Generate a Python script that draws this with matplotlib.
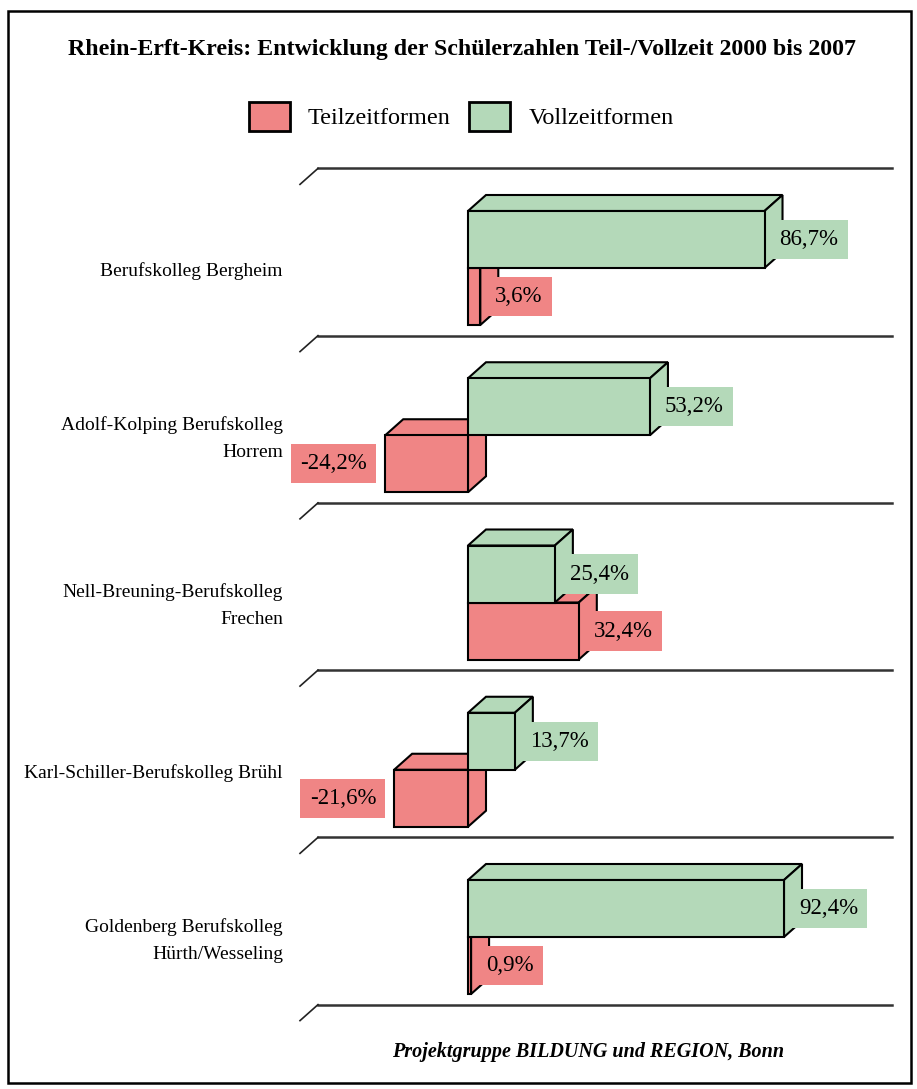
import numpy as np
import matplotlib.pyplot as plt
from matplotlib.patches import Polygon, Rectangle

schulen = ["Berufskolleg Bergheim",
           "Adolf-Kolping Berufskolleg\nHorrem",
           "Nell-Breuning-Berufskolleg\nFrechen",
           "Karl-Schiller-Berufskolleg Brühl",
           "Goldenberg Berufskolleg\nHürth/Wesseling"]
teilzeit = [3.6, -24.2, 32.4, -21.6, 0.9]
vollzeit = [86.7, 53.2, 25.4, 13.7, 92.4]

rot = '#f08585'
gruen = '#b4d9b9'

W, H = 917, 1089
px_x = 3.42      # pixel per percent
px_y = 167.25    # pixel per category
x0_px, y0_px = 468, 268

plt.rcParams['font.family'] = ['Liberation Serif', 'DejaVu Serif']

fig = plt.figure(figsize=(W/100, H/100), dpi=100)
ax = fig.add_axes([0, 0, 1, 1])
ax.set_xlim(-x0_px/px_x, (W - x0_px)/px_x)
ax.set_ylim((H - y0_px)/px_y, -y0_px/px_y)
ax.axis('off')

dx = 18/px_x      # depth of the 3d effect
dy = -16/px_y
h = 57/px_y       # bar thickness

def fx(p):
    return p/W

def fy(p):
    return 1 - p/H

# floor lines
xl = (300 - x0_px)/px_x
xr = (892 - x0_px)/px_x
for k in range(len(schulen) + 1):
    yf = k - 0.5
    ax.plot([xl + dx, xr], [yf + dy, yf + dy], color='#333333', lw=1.8, zorder=1)
    ax.plot([xl, xl + dx], [yf, yf + dy], color='#222222', lw=1.2, zorder=1)

def bar3d(v, ytop, ybot, col):
    a, b = min(0, v), max(0, v)
    kw = dict(facecolor=col, edgecolor='black', lw=1.5, joinstyle='miter', zorder=2)
    ax.add_patch(Polygon([(a, ytop), (a + dx, ytop + dy), (b + dx, ytop + dy), (b, ytop)], **kw))
    ax.add_patch(Polygon([(b, ytop), (b + dx, ytop + dy), (b + dx, ybot + dy), (b, ybot)], **kw))
    ax.add_patch(Polygon([(a, ytop), (b, ytop), (b, ybot), (a, ybot)], **kw))

def label(v, yc, col):
    s = f"{v:.1f}%".replace('.', ',')
    if v >= 0:
        ax.text(v + 15/px_x, yc, s, ha='left', va='center', fontsize=16.5, zorder=5,
                bbox=dict(boxstyle='square,pad=0.4', fc=col, ec='none'))
    else:
        ax.text(v - 18/px_x, yc, s, ha='right', va='center', fontsize=16.5, zorder=5,
                bbox=dict(boxstyle='square,pad=0.4', fc=col, ec='none'))

for i, (t, v) in enumerate(zip(teilzeit, vollzeit)):
    bar3d(t, i, i + h, rot)
    bar3d(v, i - h, i, gruen)
    label(t, i + h/2, rot)
    label(v, i - h/2, gruen)
    ax.text(-(x0_px - 283)/px_x, i + 0.02, schulen[i], ha='right', va='center',
            fontsize=14, linespacing=1.8, multialignment='right')

# title, legend, footer
fig.text(fx(462), fy(50), "Rhein-Erft-Kreis: Entwicklung der Schülerzahlen Teil-/Vollzeit 2000 bis 2007",
         ha='center', va='center', fontsize=17.2, fontweight='bold')

fig.patches.append(Rectangle((fx(249), fy(131)), 41/W, 29/H, transform=fig.transFigure,
                             fc=rot, ec='black', lw=2))
fig.text(fx(308), fy(118), "Teilzeitformen", ha='left', va='center', fontsize=17.5)
fig.patches.append(Rectangle((fx(469), fy(131)), 41/W, 29/H, transform=fig.transFigure,
                             fc=gruen, ec='black', lw=2))
fig.text(fx(529), fy(118), "Vollzeitformen", ha='left', va='center', fontsize=17.5)

fig.text(fx(588), fy(1052), "Projektgruppe BILDUNG und REGION, Bonn", ha='center', va='center',
         fontsize=14.5, fontweight='bold', fontstyle='italic')

fig.patches.append(Rectangle((fx(8), fy(1083)), 903/W, 1072/H, transform=fig.transFigure,
                             fill=False, ec='black', lw=1.8))

fig.savefig('out.png', dpi=100)
